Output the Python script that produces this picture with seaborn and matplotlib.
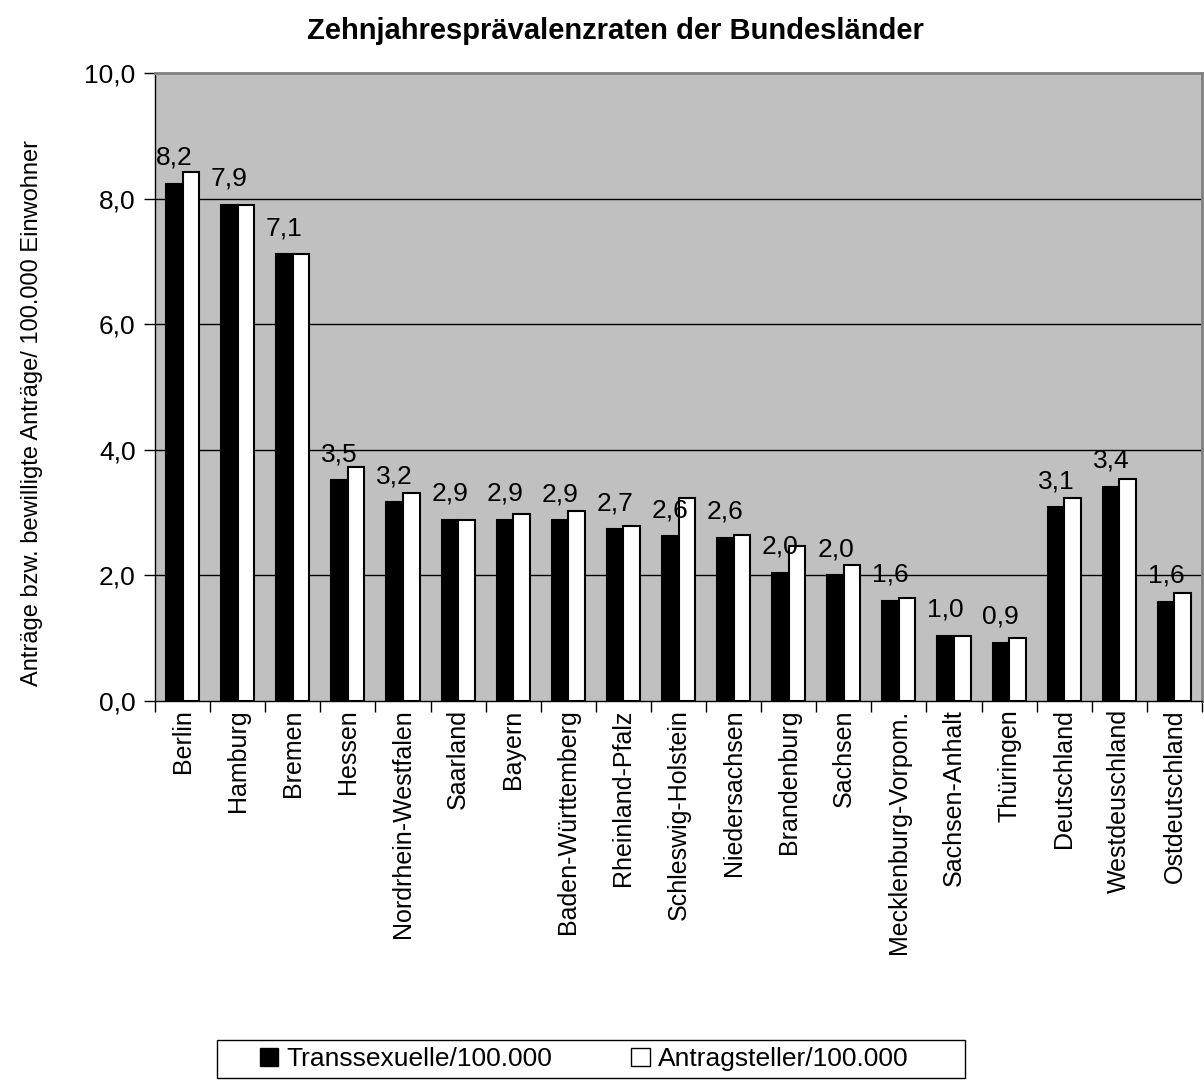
import matplotlib
matplotlib.use("Agg")
import matplotlib.pyplot as plt
import numpy as np
import pandas as pd
import seaborn as sns
from matplotlib.patches import Patch, Rectangle
from matplotlib.ticker import FuncFormatter, FixedLocator

laender = ["Berlin", "Hamburg", "Bremen", "Hessen", "Nordrhein-Westfalen", "Saarland",
           "Bayern", "Baden-Württemberg", "Rheinland-Pfalz", "Schleswig-Holstein",
           "Niedersachsen", "Brandenburg", "Sachsen", "Mecklenburg-Vorpom.",
           "Sachsen-Anhalt", "Thüringen", "Deutschland", "Westdeuschland", "Ostdeutschland"]
transsexuelle = [8.24, 7.90, 7.11, 3.52, 3.17, 2.89, 2.89, 2.88, 2.74, 2.62,
                 2.60, 2.04, 2.00, 1.60, 1.04, 0.93, 3.09, 3.41, 1.58]
antragsteller = [8.42, 7.90, 7.11, 3.73, 3.31, 2.88, 2.97, 3.02, 2.79, 3.24,
                 2.65, 2.47, 2.17, 1.64, 1.03, 1.00, 3.23, 3.54, 1.72]
serien = ["Transsexuelle/100.000", "Antragsteller/100.000"]

df = pd.DataFrame({
    "land": laender * 2,
    "wert": transsexuelle + antragsteller,
    "serie": [serien[0]] * len(laender) + [serien[1]] * len(laender),
})

sns.set_style("white")
plt.rcParams["font.family"] = ["Liberation Sans", "DejaVu Sans"]
plt.rcParams.update({"text.color": "black", "axes.labelcolor": "black",
                     "xtick.color": "black", "ytick.color": "black"})

fig = plt.figure(figsize=(12.04, 10.8), dpi=100)
ax = fig.add_axes([155 / 1204, 1 - 701 / 1080, 1047 / 1204, 628 / 1080])
ax.set_facecolor("#c0c0c0")

sns.barplot(data=df, x="land", y="wert", hue="serie", palette=["black", "white"],
            edgecolor="black", linewidth=1.5, width=0.6, ax=ax, legend=False, zorder=3)

ax.set_ylim(0, 10)
ax.set_xlim(-0.5, len(laender) - 0.5)
ax.yaxis.set_major_locator(FixedLocator([0, 2, 4, 6, 8, 10]))
ax.yaxis.set_major_formatter(FuncFormatter(lambda v, p: f"{v:.1f}".replace(".", ",")))
for y in [2, 4, 6, 8]:
    ax.axhline(y, color="black", linewidth=1, zorder=1)

ax.bar_label(ax.containers[0], labels=[f"{v:.1f}".replace(".", ",") for v in transsexuelle],
             padding=10, fontsize=19, zorder=4, color="black")

for s in ["top", "right"]:
    ax.spines[s].set_color("#808080")
    ax.spines[s].set_linewidth(2)
for s in ["left", "bottom"]:
    ax.spines[s].set_color("black")
    ax.spines[s].set_linewidth(1)

ax.tick_params(axis="y", left=True, length=8, width=1, labelsize=19, color="black", pad=6)
ax.set_xticks(range(len(laender)))
ax.set_xticklabels(laender, rotation=90, fontsize=18)
ax.tick_params(axis="x", bottom=False, length=0, pad=6)
ax.set_xticks(np.arange(-0.5, len(laender), 1), minor=True)
ax.tick_params(axis="x", which="minor", bottom=True, length=8, width=1, color="black")

ax.set_xlabel("")
ax.set_ylabel("Anträge bzw. bewilligte Anträge/ 100.000 Einwohner", fontsize=17)
ax.yaxis.set_label_coords(-0.1066, 0.459)
fig.text(0.511, 0.971, "Zehnjahresprävalenzraten der Bundesländer", ha="center", va="center",
         fontsize=21, fontweight="bold")

# legend frame drawn separately, entries placed inside
fig.patches.append(Rectangle((217 / 1204, 1 - 1078 / 1080), 748 / 1204, 38 / 1080,
                             transform=fig.transFigure, facecolor="white",
                             edgecolor="black", linewidth=1))
handles = [Patch(facecolor="black", edgecolor="black"),
           Patch(facecolor="white", edgecolor="black")]
leg = fig.legend(handles, serien, loc="center left", bbox_to_anchor=(236 / 1204, 1 - 1059 / 1080),
                 ncol=2, fontsize=19, frameon=False, handlelength=0.7,
                 handleheight=0.7, handletextpad=0.3, columnspacing=3.0)

fig.savefig("out.png", dpi=100, facecolor="white")
